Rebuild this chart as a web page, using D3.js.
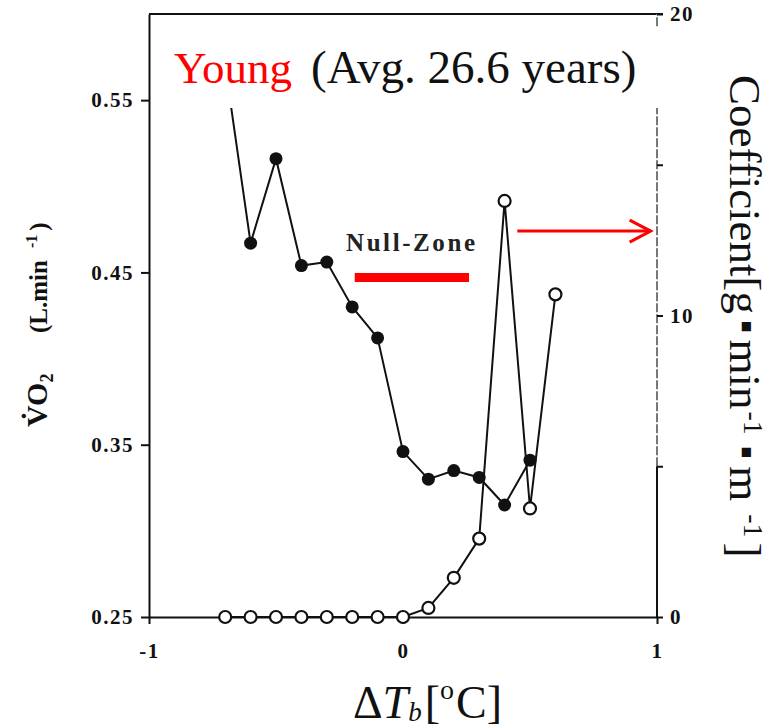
<!DOCTYPE html>
<html>
<head>
<meta charset="utf-8">
<script src="https://cdn.jsdelivr.net/npm/d3@7"></script>
<style>
  body { margin: 0; background: #fff; }
  svg { display: block; font-family: "Liberation Serif", "Times New Roman", serif; }
</style>
</head>
<body>
<div id="chart"></div>
<script>
// data
const tempX = [-0.7, -0.6, -0.5, -0.4, -0.3, -0.2, -0.1, 0.0, 0.1, 0.2, 0.3, 0.4, 0.5];
const vo2 = [0.57, 0.467, 0.516, 0.454, 0.456, 0.430, 0.412, 0.346, 0.330, 0.335, 0.331, 0.315, 0.341];
const coefX = [-0.7, -0.6, -0.5, -0.4, -0.3, -0.2, -0.1, 0.0, 0.1, 0.2, 0.3, 0.4, 0.5, 0.6];
const coef = [0, 0, 0, 0, 0, 0, 0, 0, 0.3, 1.3, 2.6, 13.8, 3.6, 10.7];
const xTicks = [-1, 0, 1];
const leftTicks = [0.25, 0.35, 0.45, 0.55];
const rightTicks = [0, 5, 10, 15, 20];
const nullZone = [-0.19, 0.26];
const nullZoneLevel = 0.447;
const arrowFrom = 0.45, arrowTo = 0.975, arrowLevel = 12.8;

const width = 771, height = 728;
const margin = { top: 14, right: 114, bottom: 111, left: 149 };

const svg = d3.select("#chart").append("svg")
    .attr("width", width)
    .attr("height", height);

const x = d3.scaleLinear().domain([-1, 1]).range([margin.left, width - margin.right]);
const yL = d3.scaleLinear().domain([0.25, 0.6]).range([height - margin.bottom, margin.top]);
const yR = d3.scaleLinear().domain([0, 20]).range([height - margin.bottom, margin.top]);

const fmt = d => (d < 0 ? "-" + Math.abs(d) : String(d));

// top frame
svg.append("line")
    .attr("x1", x(-1)).attr("x2", x(1) + 6)
    .attr("y1", yL(0.6)).attr("y2", yL(0.6))
    .attr("stroke", "#111").attr("stroke-width", 2);

// right axis line: solid lower part, grey dashed upper part
svg.append("line")
    .attr("x1", x(1)).attr("x2", x(1))
    .attr("y1", yR(0)).attr("y2", yR(5))
    .attr("stroke", "#111").attr("stroke-width", 2);
svg.append("line")
    .attr("x1", x(1)).attr("x2", x(1))
    .attr("y1", yR(5)).attr("y2", yR(20))
    .attr("stroke", "#777").attr("stroke-width", 2)
    .attr("stroke-dasharray", "9,2");

const styleAxis = g => {
    g.selectAll("path.domain").attr("stroke", "#111").attr("stroke-width", 2);
    g.selectAll(".tick line").attr("stroke", "#111").attr("stroke-width", 2);
    g.selectAll("text")
        .attr("fill", "#111")
        .style("font-family", "Liberation Serif, serif")
        .style("font-weight", "bold")
        .style("font-size", "21px")
        .style("letter-spacing", "1.5px");
};

svg.append("g")
    .attr("transform", `translate(0,${yL(0.25)})`)
    .call(d3.axisBottom(x).tickValues(xTicks).tickFormat(fmt).tickSize(7).tickSizeOuter(0).tickPadding(19))
    .call(styleAxis);

svg.append("g")
    .attr("transform", `translate(${x(-1)},0)`)
    .call(d3.axisLeft(yL).tickValues(leftTicks).tickFormat(d3.format(".2f")).tickSize(8).tickSizeOuter(0).tickPadding(7))
    .call(styleAxis);

svg.append("g")
    .attr("transform", `translate(${x(1)},0)`)
    .call(d3.axisRight(yR).tickValues(rightTicks).tickFormat(d => (d % 10 === 0 ? d : "")).tickSize(6).tickSizeOuter(0).tickPadding(7))
    .call(g => g.select("path.domain").remove())
    .call(styleAxis);

// coefficient series (open circles, right axis)
const coefData = coefX.map((v, i) => ({ t: v, c: coef[i] }));
svg.append("path")
    .datum(coefData)
    .attr("fill", "none")
    .attr("stroke", "#111")
    .attr("stroke-width", 2)
    .attr("d", d3.line().x(d => x(d.t)).y(d => yR(d.c)));

// VO2 series (filled circles, left axis)
const vo2Data = tempX.map((v, i) => ({ t: v, v: vo2[i] }));
svg.append("path")
    .datum(vo2Data)
    .attr("fill", "none")
    .attr("stroke", "#111")
    .attr("stroke-width", 2)
    .attr("d", d3.line().x(d => x(d.t)).y(d => yL(d.v)));

svg.selectAll("circle.vo2")
    .data(vo2Data)
    .enter().append("circle")
    .attr("class", "vo2")
    .attr("cx", d => x(d.t))
    .attr("cy", d => yL(d.v))
    .attr("r", 6.5)
    .attr("fill", "#111");

svg.selectAll("circle.coef")
    .data(coefData)
    .enter().append("circle")
    .attr("class", "coef")
    .attr("cx", d => x(d.t))
    .attr("cy", d => yR(d.c))
    .attr("r", 6)
    .attr("fill", "#fff")
    .attr("stroke", "#111")
    .attr("stroke-width", 2.2);

// white box behind title
svg.append("rect")
    .attr("x", 162).attr("y", 27)
    .attr("width", 503).attr("height", 81)
    .attr("fill", "#fff");

const title = svg.append("text")
    .attr("x", 174).attr("y", 83)
    .style("font-size", "45px");
title.append("tspan").attr("fill", "red").text("Young");
title.append("tspan").attr("x", 311).attr("fill", "#111").style("font-size", "47px").text("(Avg. 26.6 years)");

// Null-Zone annotation
svg.append("text")
    .attr("x", 346).attr("y", 251)
    .attr("textLength", 129)
    .attr("lengthAdjust", "spacing")
    .style("font-size", "25px")
    .style("font-weight", "bold")
    .attr("fill", "#222")
    .text("Null-Zone");

svg.append("line")
    .attr("x1", x(nullZone[0])).attr("x2", x(nullZone[1]))
    .attr("y1", yL(nullZoneLevel)).attr("y2", yL(nullZoneLevel))
    .attr("stroke", "red").attr("stroke-width", 9);

// arrow to right axis
const ay = yR(arrowLevel);
svg.append("line")
    .attr("x1", x(arrowFrom)).attr("x2", x(arrowTo))
    .attr("y1", ay).attr("y2", ay)
    .attr("stroke", "red").attr("stroke-width", 3);
svg.append("polyline")
    .attr("points", `${x(arrowTo) - 21},${ay - 11} ${x(arrowTo)},${ay} ${x(arrowTo) - 21},${ay + 11}`)
    .attr("fill", "none").attr("stroke", "red").attr("stroke-width", 3);

// left axis title
svg.append("text")
    .attr("transform", "translate(47,427) rotate(-90)")
    .style("font-size", "30px").style("font-weight", "bold")
    .attr("fill", "#111")
    .call(t => {
        t.append("tspan").text("V\u0307O");
        t.append("tspan").attr("dy", 6).style("font-size", "18px").text("2");
    });
svg.append("text")
    .attr("transform", "translate(47,333) rotate(-90)")
    .style("font-size", "25px").style("font-weight", "bold")
    .attr("fill", "#111")
    .call(t => {
        t.append("tspan").text("(L.min");
        t.append("tspan").attr("dx", 12).attr("dy", -10).style("font-size", "16px").text("-1");
        t.append("tspan").attr("dx", 4).attr("dy", 10).text(")");
    });

// right axis title
svg.append("text")
    .attr("transform", "translate(730,75) rotate(90)")
    .style("font-size", "45px")
    .attr("fill", "#111")
    .call(t => {
        t.append("tspan").text("Coefficient[g");
        t.append("tspan").attr("dx", 7).attr("dy", -13).style("font-size", "12px").style("font-family", "DejaVu Sans").text("\u25A0");
        t.append("tspan").attr("dx", 7).attr("dy", 13).text("min");
        t.append("tspan").attr("dx", 2).attr("dy", -14).style("font-size", "28px").text("-1");
        t.append("tspan").attr("dx", 12).attr("dy", 1).style("font-size", "12px").style("font-family", "DejaVu Sans").text("\u25A0");
        t.append("tspan").attr("dx", 8).attr("dy", 13).text("m");
        t.append("tspan").attr("dx", 6).attr("dy", -14).style("font-size", "28px").text(" -1");
        t.append("tspan").attr("dx", 5).attr("dy", 14).text("]");
    });

// x axis title
svg.append("text")
    .attr("x", 353).attr("y", 718)
    .style("font-size", "46px")
    .attr("fill", "#111")
    .call(t => {
        t.append("tspan").text("\u0394");
        t.append("tspan").style("font-style", "italic").text("T");
        t.append("tspan").attr("dy", 3).style("font-style", "italic").style("font-size", "27px").text("b");
        t.append("tspan").attr("dx", 3).attr("dy", -3).text("[");
        t.append("tspan").attr("dy", -19).style("font-size", "28px").text("o");
        t.append("tspan").attr("dx", 2).attr("dy", 19).text("C]");
    });
</script>
</body>
</html>
